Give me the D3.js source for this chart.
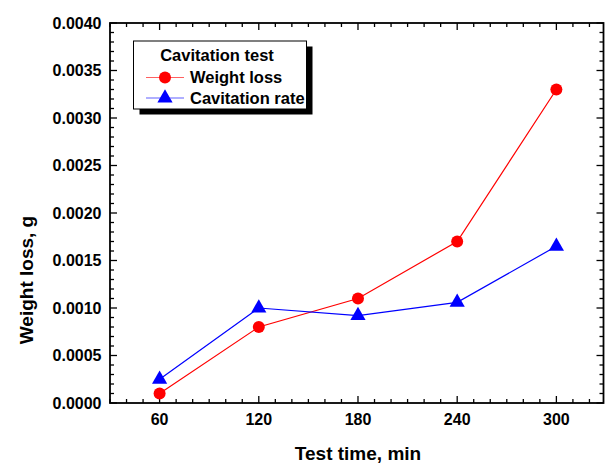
<!DOCTYPE html>
<html><head><meta charset="utf-8">
<script src="https://cdn.jsdelivr.net/npm/d3@7"></script>
<style>body{margin:0;background:#fff}text{font-family:"Liberation Sans",Arial,sans-serif;font-weight:bold}</style>
</head><body><svg id="c" width="606" height="465"></svg>
<script>
const times = [60, 120, 180, 240, 300];
const weightLoss = [0.0001, 0.0008, 0.0011, 0.0017, 0.0033];
const cavitationRate = [0.00025, 0.0010, 0.00092, 0.00106, 0.00165];
const xTicks = [60, 120, 180, 240, 300];
const yTicks = [0, 0.0005, 0.001, 0.0015, 0.002, 0.0025, 0.003, 0.0035, 0.004];
const legendTitle = "Cavitation test";
const seriesNames = ["Weight loss", "Cavitation rate"];

const svg = d3.select("#c");
const L = 110, R = 603.5, T = 23, B = 403;
const x = d3.scaleLinear().domain([30, 328.5]).range([L, R]);
const y = d3.scaleLinear().domain([0, 0.004]).range([B, T]);

const g = svg.append("g");
const xMinor = d3.range(30, 329, 10);
const yMinor = d3.range(0, 0.00401, 0.0001);
xMinor.forEach(v=>{
  const major = xTicks.includes(Math.round(v));
  const len = major ? 7 : 4;
  g.append("line").attr("x1",x(v)).attr("x2",x(v)).attr("y1",B).attr("y2",B-len).attr("stroke","#000").attr("stroke-width",1.3);
  g.append("line").attr("x1",x(v)).attr("x2",x(v)).attr("y1",T).attr("y2",T+len).attr("stroke","#000").attr("stroke-width",1.3);
});
yMinor.forEach((v,i)=>{
  const major = i%5===0;
  const len = major ? 7 : 4;
  g.append("line").attr("x1",L).attr("x2",L+len).attr("y1",y(v)).attr("y2",y(v)).attr("stroke","#000").attr("stroke-width",1.3);
  g.append("line").attr("x1",R).attr("x2",R-len).attr("y1",y(v)).attr("y2",y(v)).attr("stroke","#000").attr("stroke-width",1.3);
});
g.append("rect").attr("x",L).attr("y",T).attr("width",R-L).attr("height",B-T).attr("fill","none").attr("stroke","#000").attr("stroke-width",1.8);

xTicks.forEach(v=>{
  svg.append("text").attr("x",x(v)).attr("y",425).attr("text-anchor","middle").attr("font-size",16).text(v);
});
yTicks.forEach(v=>{
  svg.append("text").attr("x",101.5).attr("y",y(v)+5.8).attr("text-anchor","end").attr("font-size",16).text(v.toFixed(4));
});
svg.append("text").attr("x",358).attr("y",460).attr("text-anchor","middle").attr("font-size",19).text("Test time, min");
svg.append("text").attr("transform","translate(33,280) rotate(-90)").attr("text-anchor","middle").attr("font-size",19).text("Weight loss, g");

const line = d3.line().x(d=>x(d[0])).y(d=>y(d[1]));
const wl = times.map((t,i)=>[t, weightLoss[i]]);
const cr = times.map((t,i)=>[t, cavitationRate[i]]);
svg.append("path").attr("d",line(wl)).attr("fill","none").attr("stroke","#ff0000").attr("stroke-width",1.2);
svg.append("path").attr("d",line(cr)).attr("fill","none").attr("stroke","#0000ff").attr("stroke-width",1.2);
const tri = d3.symbol().type(d3.symbolTriangle).size(100);
svg.selectAll(".c").data(wl).enter().append("circle").attr("cx",d=>x(d[0])).attr("cy",d=>y(d[1])).attr("r",6).attr("fill","#ff0000");
svg.selectAll(".t").data(cr).enter().append("path").attr("d",tri).attr("transform",d=>`translate(${x(d[0])},${y(d[1])})`).attr("fill","#0000ff");

const lx = 133.5, ly = 41, lw = 173, lh = 68;
svg.append("rect").attr("x",lx+6).attr("y",ly+5.5).attr("width",lw).attr("height",lh).attr("fill","#000");
svg.append("rect").attr("x",lx).attr("y",ly).attr("width",lw).attr("height",lh).attr("fill","#fff").attr("stroke","#000").attr("stroke-width",1);
svg.append("text").attr("x",217).attr("y",61).attr("text-anchor","middle").attr("font-size",16.5).text(legendTitle);
svg.append("line").attr("x1",146).attr("x2",184).attr("y1",77.5).attr("y2",77.5).attr("stroke","#ff6060").attr("stroke-width",1.2);
svg.append("circle").attr("cx",165).attr("cy",77.5).attr("r",6).attr("fill","#ff0000");
svg.append("text").attr("x",190).attr("y",83).attr("font-size",16.5).text(seriesNames[0]);
svg.append("line").attr("x1",146).attr("x2",184).attr("y1",98).attr("y2",98).attr("stroke","#6060ff").attr("stroke-width",1.2);
svg.append("path").attr("d",tri).attr("transform","translate(165,98)").attr("fill","#0000ff");
svg.append("text").attr("x",190).attr("y",103.5).attr("font-size",16.5).text(seriesNames[1]);
</script></body></html>
